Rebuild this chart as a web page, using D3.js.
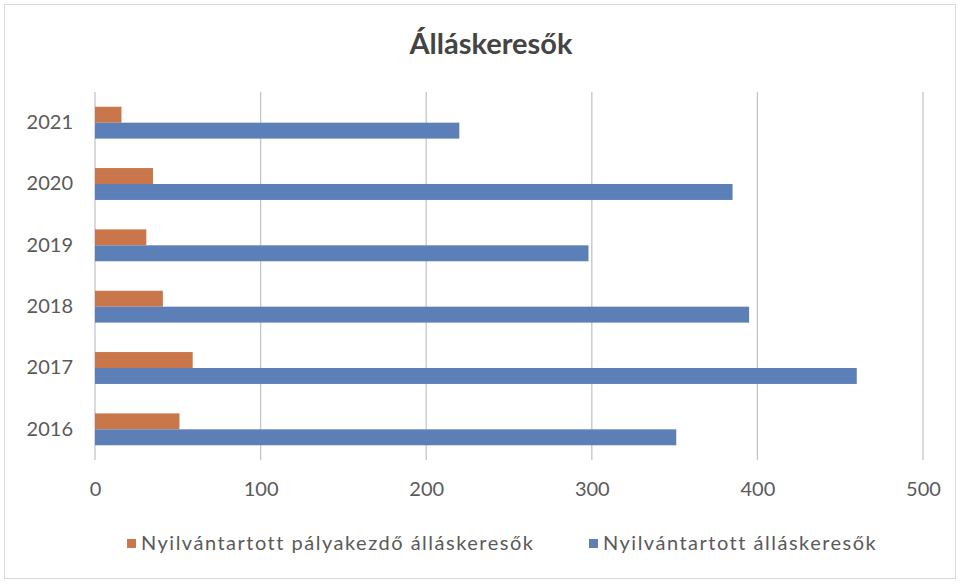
<!DOCTYPE html>
<html>
<head>
<meta charset="utf-8">
<script src="https://cdn.jsdelivr.net/npm/d3@7"></script>
<style>
  body { margin: 0; background: #fff; }
  svg { font-family: Lato, "Open Sans", sans-serif; }
</style>
</head>
<body>
<svg id="chart" width="961" height="584"></svg>
<script>
var years = ["2016", "2017", "2018", "2019", "2020", "2021"];
var palyakezdo = [51, 59, 41, 31, 35, 16];
var osszes = [351, 460, 395, 298, 385, 220];
var xTicks = [0, 100, 200, 300, 400, 500];
var seriesNames = ["Nyilvántartott pályakezdő álláskeresők", "Nyilvántartott álláskeresők"];

var colorOrange = "#c8764a";
var colorBlue = "#5b7fb6";
var textColor = "#5a5a5a";

var margin = { left: 95, right: 38, top: 92, bottom: 124 };
var width = 961 - margin.left - margin.right;
var height = 584 - margin.top - margin.bottom;

var svg = d3.select("#chart");

// frame
svg.append("rect")
    .attr("x", 4.5).attr("y", 4.5)
    .attr("width", 951).attr("height", 574)
    .attr("fill", "none").attr("stroke", "#d9d9d9");

svg.append("text")
    .attr("x", 491).attr("y", 54)
    .attr("text-anchor", "middle")
    .style("font-size", "29px").style("font-weight", "bold")
    .style("fill", "#444")
    .text("Álláskeresők");

var g = svg.append("g").attr("transform", "translate(" + margin.left + "," + margin.top + ")");

var x = d3.scaleLinear().domain([0, 500]).range([0, width]);

// years bottom to top
var y = d3.scaleBand().domain(years.slice().reverse()).range([0, height]).paddingInner(0.48).paddingOuter(0.24);
var ySub = d3.scaleBand().domain([0, 1]).range([0, y.bandwidth()]);

// gridlines
g.selectAll(".grid").data(xTicks).enter().append("line")
    .attr("x1", d => x(d)).attr("x2", d => x(d))
    .attr("y1", 0).attr("y2", height)
    .attr("stroke", "#c4c4cc").attr("stroke-width", 1.3);

var rows = years.map((yr, i) => ({ year: yr, vals: [palyakezdo[i], osszes[i]] }));

var grp = g.selectAll(".yr").data(rows).enter().append("g")
    .attr("transform", d => "translate(0," + y(d.year) + ")");

grp.selectAll("rect").data(d => d.vals).enter().append("rect")
    .attr("x", x(0))
    .attr("y", (d, i) => ySub(i))
    .attr("height", ySub.bandwidth())
    .attr("width", d => x(d) - x(0))
    .attr("fill", (d, i) => i === 0 ? colorOrange : colorBlue);

// axes
var xAxis = g.append("g").attr("transform", "translate(0," + height + ")")
    .call(d3.axisBottom(x).tickValues(xTicks).tickSize(0).tickPadding(22));
xAxis.select(".domain").remove();
xAxis.selectAll("text").style("font-size", "20px").style("fill", textColor).style("font-family", "Lato, sans-serif");

var yAxis = g.append("g").call(d3.axisLeft(y).tickSize(0).tickPadding(22));
yAxis.select(".domain").remove();
yAxis.selectAll("text").style("font-size", "20px").style("fill", textColor).style("font-family", "Lato, sans-serif");

// legend
var legendX = [127, 589];
var legend = svg.selectAll(".leg").data(seriesNames).enter().append("g")
    .attr("transform", (d, i) => "translate(" + legendX[i] + ",543)");
legend.append("rect").attr("x", 0).attr("y", -4).attr("width", 9).attr("height", 9)
    .attr("fill", (d, i) => i === 0 ? colorOrange : colorBlue);
legend.append("text").attr("x", 14).attr("y", 0).attr("dy", "0.35em")
    .style("font-size", "20px").style("fill", textColor)
    .style("letter-spacing", "1.5px")
    .text(d => d);
</script>
</body>
</html>
